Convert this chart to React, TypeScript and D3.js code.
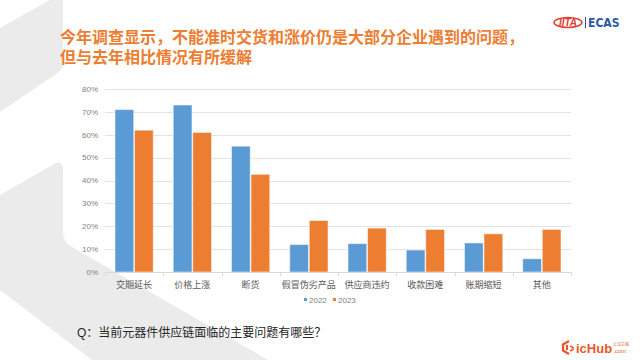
import { useEffect, useRef } from 'react';
import * as d3 from 'd3';

const categories = ['交期延长', '价格上涨', '断货', '假冒伪劣产品', '供应商违约', '收款困难', '账期缩短', '其他'];
const seriesNames = ['2022', '2023'];
const values2022 = [71, 73, 55, 12, 12.4, 9.6, 12.7, 5.8];
const values2023 = [62, 61, 42.7, 22.5, 19.2, 18.6, 16.7, 18.6];
const yTicks = [0, 10, 20, 30, 40, 50, 60, 70, 80];
const titleLines = ['今年调查显示，不能准时交货和涨价仍是大部分企业遇到的问题，', '但与去年相比情况有所缓解'];
const question = 'Q：当前元器件供应链面临的主要问题有哪些？';

const colors = ['#5b9bd5', '#ed7d31'];
const cjk = '"Liberation Sans", Arial, "Noto Sans CJK SC", sans-serif';

type Row = { cat: string; vals: number[] };

export default function App() {
  const svgRef = useRef<SVGSVGElement>(null);

  useEffect(() => {
    if (!svgRef.current) return;
    const svg = d3.select(svgRef.current);
    svg.selectAll('*').remove();

    // background decoration (light grey bracket shape on the left)
    const bg = svg.append('g').attr('fill', '#ebebeb');
    bg.append('path').attr('d', 'M50,0 L63,0 L63,63 Q63,70 56,74 L0,112 L0,28 Z');
    bg.append('path').attr('d', 'M0,195 L54,164 Q63,159 63,170 L63,232 Q63,242 72,247 L268,360 L92,360 L0,290 Z');

    // title
    svg.append('g')
      .selectAll('text')
      .data(titleLines)
      .enter().append('text')
      .attr('x', 60)
      .attr('y', (_d, i) => 43 + i * 20)
      .attr('fill', '#ed7d31')
      .style('font-family', cjk)
      .style('font-weight', 700)
      .style('font-size', '16px')
      .text(d => d);

    const margin = { top: 89, right: 69, bottom: 88, left: 105 };
    const width = 640 - margin.left - margin.right;
    const height = 360 - margin.top - margin.bottom;

    const g = svg.append('g').attr('transform', `translate(${margin.left},${margin.top})`);

    const data: Row[] = categories.map((c, i) => ({ cat: c, vals: [values2022[i], values2023[i]] }));

    const x0 = d3.scaleBand<string>().domain(categories).range([0, width]).padding(0);
    const bw = x0.bandwidth();
    const x1 = d3.scaleBand<string>().domain(seriesNames).range([10, bw - 10]).paddingInner(0.04);
    const y = d3.scaleLinear().domain([0, 80]).range([height, 0]);

    // gridlines
    g.append('g')
      .selectAll('line')
      .data(yTicks.slice(1))
      .enter().append('line')
      .attr('x1', 0).attr('x2', width)
      .attr('y1', d => Math.round(y(d)) + 0.5)
      .attr('y2', d => Math.round(y(d)) + 0.5)
      .attr('stroke', '#e3e3e3')
      .attr('stroke-width', 1);

    // y labels
    g.append('g')
      .selectAll('text')
      .data(yTicks)
      .enter().append('text')
      .attr('x', -7)
      .attr('y', d => y(d))
      .attr('dy', '0.35em')
      .attr('text-anchor', 'end')
      .attr('fill', '#7f7f7f')
      .style('font-family', cjk)
      .style('font-size', '8px')
      .text(d => `${d}%`);

    // bars
    const groups = g.append('g')
      .selectAll('g')
      .data(data)
      .enter().append('g')
      .attr('transform', d => `translate(${x0(d.cat)},0)`);

    groups.selectAll('rect')
      .data(d => d.vals.map((v, i) => ({ key: seriesNames[i], v, i })))
      .enter().append('rect')
      .attr('x', d => x1(d.key)!)
      .attr('y', d => y(d.v))
      .attr('width', x1.bandwidth())
      .attr('height', d => height - y(d.v))
      .attr('fill', d => colors[d.i])
      .attr('stroke', '#ffffff')
      .attr('stroke-opacity', 0.5)
      .attr('stroke-width', 1);

    // x axis line and ticks
    const axis = g.append('g').attr('transform', `translate(0,${height})`);
    axis.append('line')
      .attr('x1', 0).attr('x2', width)
      .attr('y1', 0.5).attr('y2', 0.5)
      .attr('stroke', '#d9d9d9');
    axis.selectAll('.tick')
      .data(d3.range(categories.length + 1))
      .enter().append('line')
      .attr('class', 'tick')
      .attr('x1', i => Math.round(i * bw) + 0.5)
      .attr('x2', i => Math.round(i * bw) + 0.5)
      .attr('y1', 0).attr('y2', 4)
      .attr('stroke', '#d9d9d9');
    axis.selectAll('.lbl')
      .data(categories)
      .enter().append('text')
      .attr('class', 'lbl')
      .attr('x', d => x0(d)! + bw / 2)
      .attr('y', 16)
      .attr('text-anchor', 'middle')
      .attr('fill', '#595959')
      .style('font-family', cjk)
      .style('font-size', '9px')
      .text(d => d);

    // legend
    const legend = svg.append('g').attr('transform', 'translate(304,300)');
    const legX = [0, 29];
    seriesNames.forEach((s, i) => {
      legend.append('rect')
        .attr('x', legX[i]).attr('y', -2)
        .attr('width', 3).attr('height', 3)
        .attr('fill', colors[i]);
      legend.append('text')
        .attr('x', legX[i] + 5).attr('y', 0)
        .attr('dy', '0.35em')
        .attr('fill', '#7f7f7f')
        .style('font-family', cjk)
        .style('font-size', '8px')
        .text(s);
    });

    // question
    svg.append('text')
      .attr('x', 77).attr('y', 337)
      .attr('fill', '#262626')
      .style('font-family', cjk)
      .style('font-size', '12px')
      .text(question);

    // top-right logo
    const logo = svg.append('g');
    logo.append('ellipse')
      .attr('cx', 568).attr('cy', 22.5).attr('rx', 14).attr('ry', 5)
      .attr('fill', 'none').attr('stroke', '#e03c31').attr('stroke-width', 1.5);
    logo.append('text')
      .attr('x', 568).attr('y', 26).attr('text-anchor', 'middle')
      .attr('fill', '#e03c31')
      .style('font-family', '"Liberation Sans", sans-serif')
      .style('font-weight', 700).style('font-style', 'italic')
      .style('font-size', '10px')
      .text('IITA');
    logo.append('line')
      .attr('x1', 585.5).attr('x2', 585.5).attr('y1', 17).attr('y2', 28)
      .attr('stroke', '#2b59a7').attr('stroke-width', 1);
    logo.append('text')
      .attr('x', 588).attr('y', 27)
      .attr('fill', '#2b59a7')
      .style('font-family', '"DejaVu Sans Condensed", sans-serif')
      .style('font-weight', 700)
      .style('font-size', '12px')
      .text('ECAS');

    // bottom-right logo
    const ic = svg.append('g');
    ic.append('path')
      .attr('d', 'M569,341 L563,344.5 L563,350.5 L569,354 M567,345 L567,350')
      .attr('fill', 'none').attr('stroke', '#e8582a').attr('stroke-width', 2.2);
    ic.append('path')
      .attr('d', 'M570,346 L573,347.5 L573,349.5 L570,351')
      .attr('fill', 'none').attr('stroke', '#e8582a').attr('stroke-width', 1.6);
    ic.append('text')
      .attr('x', 576).attr('y', 353)
      .attr('fill', '#e8582a')
      .style('font-family', '"Liberation Sans", sans-serif')
      .style('font-weight', 700)
      .style('font-size', '13px')
      .text('icHub');
    ic.append('text')
      .attr('x', 613).attr('y', 346)
      .attr('fill', '#e8582a')
      .style('font-family', cjk)
      .style('font-size', '4px')
      .text('云汉芯城');
    ic.append('text')
      .attr('x', 613).attr('y', 352.5)
      .attr('fill', '#e8582a')
      .style('font-family', '"Liberation Sans", sans-serif')
      .style('font-size', '6px')
      .text('.com');
  }, []);

  return (
    <svg
      ref={svgRef}
      width={640}
      height={360}
      style={{ position: 'absolute', left: 0, top: 0, background: '#ffffff' }}
    ></svg>
  );
}
